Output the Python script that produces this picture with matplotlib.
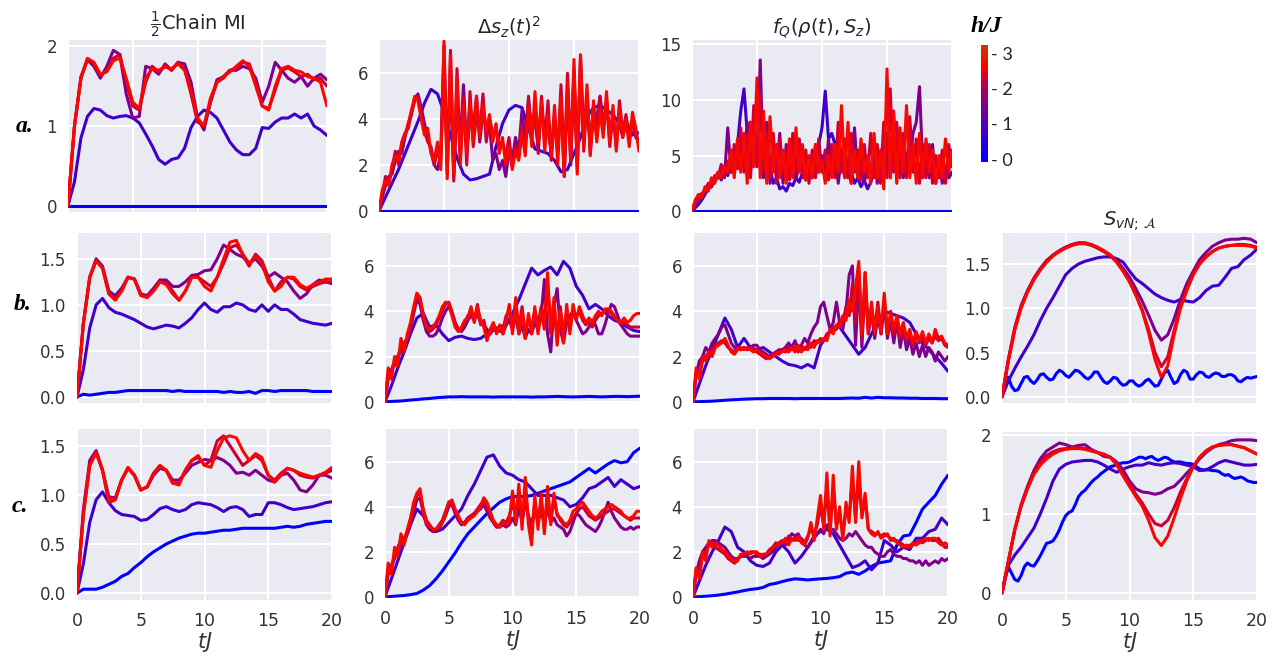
import numpy as np
import matplotlib
matplotlib.use("Agg")
import matplotlib.pyplot as plt
from matplotlib.colors import LinearSegmentedColormap, Normalize

plt.rcParams['font.family'] = ['DejaVu Sans']

# ---------------- data ----------------
h_values = [0.0, 0.75, 1.5, 2.25, 2.7]          # h/J of the five curves
cbar_ticks = [0, 1, 2, 3]
cbar_ticklabels = ['- 0', '- 1', '- 2', '- 3']
time_ticks = [0, 5, 10, 15, 20]
col_titles = [r'$\frac{1}{2}$Chain MI', r'$\Delta s_z(t)^2$', r'$f_Q(\rho(t), S_z)$', r'$S_{vN;\,\mathcal{A}}$']
row_labels = ['a.', 'b.', 'c.']

# ---- row a, half-chain MI ----
a_mi_h0 = [0.0, 0.0]
a_mi_h1 = [0, 0.3, 0.85, 1.12, 1.22, 1.2, 1.13, 1.1, 1.12, 1.13,
           1.1, 1.04, 0.9, 0.75, 0.58, 0.52, 0.58, 0.6, 0.72, 0.98,
           1.12, 1.2, 1.17, 1.1, 0.95, 0.8, 0.7, 0.64, 0.64, 0.72,
           0.98, 0.97, 1.05, 1.1, 1.1, 1.15, 1.1, 1.15, 1.0, 0.95,
           0.88]
a_mi_h2 = [0, 1.0, 1.62, 1.83, 1.75, 1.6, 1.75, 1.95, 1.9, 1.4,
           1.1, 1.12, 1.75, 1.72, 1.65, 1.78, 1.7, 1.8, 1.78, 1.55,
           1.1, 0.95, 1.3, 1.58, 1.62, 1.7, 1.7, 1.75, 1.72, 1.6,
           1.3, 1.5, 1.8, 1.7, 1.6, 1.55, 1.62, 1.5, 1.6, 1.65,
           1.58]
a_mi_h3 = [0, 1.0, 1.6, 1.84, 1.78, 1.63, 1.7, 1.85, 1.9, 1.55,
           1.25, 1.2, 1.55, 1.75, 1.68, 1.76, 1.7, 1.8, 1.72, 1.4,
           1.05, 1.0, 1.3, 1.55, 1.6, 1.7, 1.72, 1.8, 1.78, 1.55,
           1.25, 1.22, 1.45, 1.7, 1.73, 1.68, 1.62, 1.65, 1.58, 1.6,
           1.5]
a_mi_h4 = [0, 1.0, 1.6, 1.85, 1.8, 1.65, 1.68, 1.82, 1.85, 1.6,
           1.3, 1.22, 1.6, 1.72, 1.7, 1.74, 1.72, 1.78, 1.7, 1.45,
           1.1, 1.0, 1.35, 1.55, 1.62, 1.68, 1.75, 1.82, 1.75, 1.5,
           1.25, 1.2, 1.5, 1.72, 1.75, 1.7, 1.68, 1.62, 1.6, 1.55,
           1.25]

# ---- row a, variance ----
a_var_h0 = [0.0, 0.0]
a_var_h1 = [0, 0.6, 1.2, 1.8, 2.5, 3.2, 3.9, 4.7, 5.3, 5.1,
            4.3, 3.3, 2.3, 1.6, 1.35, 1.4, 1.5, 1.6, 2.8, 3.8,
            4.4, 4.6, 4.5, 3.6, 2.7, 2.6, 2.5, 2.2, 1.7, 1.8,
            2.5, 3.2, 4.1, 4.5, 4.6, 4.4, 4.2, 3.8, 3.5, 3.4,
            3.4]
a_var_h2 = [0, 0.6, 1.1, 1.5, 1.6, 2.2, 2.6, 2.5, 3.2, 3.8, 4.2, 4.9,
            5.1, 4.5, 3.8, 3.2, 2.6, 2.0, 1.8, 2.5, 7.2, 2.0, 6.0, 1.5,
            4.5, 3.0, 5.5, 2.6, 4.0, 3.6, 5.0, 3.0, 4.3, 3.6, 3.8, 2.2,
            2.5, 1.8, 2.2, 1.5, 2.6, 2.2, 3.2, 2.6, 4.4, 3.0, 4.8, 3.4,
            4.0, 2.8, 4.6, 3.2, 3.6, 2.5, 4.2, 2.5, 4.8, 1.5, 5.2, 2.0,
            6.0, 1.8, 6.8, 3.0, 5.2, 2.5, 4.2, 4.0, 5.0, 3.8, 4.5, 3.5,
            4.0, 3.4, 3.8, 3.2, 4.0, 3.6, 3.3, 3.5, 2.8]
a_var_h3 = [0, 0.7, 1.5, 1.2, 1.8, 2.6, 2.0, 3.0, 3.4, 3.6, 4.3, 4.8,
            5.0, 4.2, 3.5, 3.0, 2.8, 2.0, 2.6, 2.2, 6.5, 1.6, 7.0, 1.3,
            6.2, 2.2, 5.0, 2.0, 5.2, 2.8, 4.2, 3.5, 5.1, 3.0, 4.0, 3.4,
            3.5, 2.8, 3.0, 2.4, 3.2, 2.0, 2.8, 2.4, 3.8, 2.8, 5.0, 3.2,
            4.5, 2.5, 5.0, 3.0, 4.8, 2.2, 4.0, 2.6, 5.5, 1.8, 6.0, 2.5,
            6.2, 2.0, 6.4, 2.6, 5.0, 2.8, 4.5, 3.2, 5.0, 3.4, 4.8, 2.8,
            4.2, 2.8, 4.8, 3.4, 4.2, 3.0, 4.0, 3.2, 3.0]
a_var_h4 = [0, 0.9, 1.3, 1.1, 2.0, 2.4, 2.2, 2.9, 3.3, 3.8, 4.4, 5.0,
            4.8, 4.0, 3.3, 3.6, 2.5, 2.2, 3.0, 1.8, 7.4, 1.4, 6.8, 1.6,
            5.8, 2.0, 4.6, 2.5, 4.8, 3.0, 5.0, 3.2, 4.6, 3.5, 4.2, 3.0,
            3.8, 2.5, 3.2, 2.0, 2.8, 1.8, 2.6, 2.2, 3.4, 2.4, 4.5, 2.8,
            5.2, 3.0, 4.8, 2.6, 4.2, 2.4, 4.6, 2.0, 5.0, 1.5, 5.6, 2.2,
            6.6, 1.6, 6.8, 2.8, 5.5, 2.4, 4.8, 3.0, 4.4, 3.2, 5.2, 3.0,
            4.6, 2.6, 4.5, 3.2, 4.0, 2.8, 4.3, 3.6, 2.6]

# ---- row a, QFI ----
a_fq_h0 = [0.0, 0.0]
a_fq_h1 = [0, 0.3, 0.6, 1.0, 1.5, 2.0, 2.2, 2.8, 3.5, 2.8, 4.0, 3.2,
           4.5, 5.5, 6.0, 9.0, 11.0, 7.0, 8.0, 6.5, 7.0, 4.5, 5.5, 3.5,
           3.8, 2.5, 3.0, 2.0, 2.2, 1.8, 2.5, 2.3, 3.0, 2.6, 3.5, 2.8,
           4.0, 3.5, 5.0, 6.0, 7.5, 10.8, 6.5, 7.0, 6.0, 6.5, 5.0, 4.5,
           3.0, 3.5, 2.5, 3.0, 2.2, 2.8, 2.0, 2.6, 3.5, 3.0, 4.0, 3.5,
           4.5, 3.8, 5.0, 4.2, 5.5, 4.0, 5.2, 3.8, 4.5, 3.5, 4.2, 3.0,
           3.8, 3.2, 4.5, 3.6, 4.2, 3.0, 3.8, 3.0, 3.5]
a_fq_h2 = [0, 0.5, 1.0, 1.4, 1.6, 2.0, 2.5, 2.8, 3.0, 3.5, 3.0, 7.5,
           3.5, 5.0, 4.0, 6.0, 4.5, 8.0, 3.5, 6.5, 4.0, 13.6, 3.0, 8.0,
           2.5, 6.0, 3.5, 7.0, 2.5, 6.0, 3.0, 5.0, 2.8, 4.5, 3.5, 5.0,
           4.0, 3.0, 6.0, 3.5, 5.0, 3.0, 6.5, 3.5, 5.5, 2.5, 5.0, 3.0,
           4.0, 2.5, 7.5, 3.0, 5.0, 2.5, 4.5, 3.5, 6.0, 2.5, 5.0, 3.0,
           7.0, 3.0, 9.0, 3.5, 6.5, 3.0, 5.0, 4.0, 7.0, 8.0, 11.2, 4.0,
           5.0, 3.0, 6.0, 2.5, 4.5, 2.5, 4.0, 3.0, 3.5]
a_fq_h3 = [0, 0.8, 1.3, 1.6, 1.8, 2.5, 2.2, 3.2, 3.0, 4.2, 3.2, 4.5,
           3.5, 6.0, 3.8, 7.5, 3.5, 6.8, 3.0, 9.5, 4.0, 10.5, 3.5, 7.0,
           3.0, 7.0, 2.5, 6.5, 3.5, 5.5, 2.8, 7.0, 3.5, 6.5, 3.0, 5.5,
           2.5, 5.5, 3.0, 6.5, 3.5, 5.5, 2.8, 6.0, 3.0, 8.0, 3.5, 6.5,
           3.0, 7.0, 3.5, 5.5, 2.8, 6.0, 3.0, 7.0, 3.0, 6.0, 2.5, 8.0,
           3.0, 11.0, 3.5, 8.0, 3.0, 7.0, 3.0, 8.5, 3.5, 6.5, 2.5, 6.0,
           3.0, 6.0, 2.5, 5.0, 3.0, 5.5, 2.5, 6.0, 4.0]
a_fq_h4 = [0, 1.0, 1.5, 1.2, 2.2, 1.8, 3.0, 2.5, 3.5, 3.0, 4.0, 3.5,
           5.5, 3.0, 6.5, 3.5, 7.0, 2.5, 8.0, 4.0, 12.0, 3.0, 9.0, 2.5,
           8.5, 3.5, 6.0, 3.0, 5.5, 2.5, 6.5, 3.0, 7.5, 3.5, 6.0, 2.8,
           5.0, 3.0, 6.0, 3.5, 4.5, 2.5, 5.0, 3.0, 6.0, 3.5, 9.5, 3.0,
           8.0, 2.5, 5.5, 3.0, 6.5, 3.5, 5.0, 2.5, 7.0, 3.0, 5.5, 2.0,
           12.8, 3.0, 9.0, 2.5, 7.5, 3.5, 9.5, 3.0, 6.0, 2.5, 7.0, 3.0,
           6.5, 3.5, 5.5, 2.5, 5.0, 3.0, 6.5, 3.5, 5.5]

# ---- row b, half-chain MI ----
b_mi_h0 = [0, 0.03, 0.02, 0.03, 0.04, 0.05, 0.05, 0.06, 0.07, 0.07,
           0.07, 0.07, 0.07, 0.07, 0.07, 0.06, 0.07, 0.06, 0.06, 0.06,
           0.06, 0.06, 0.06, 0.05, 0.06, 0.05, 0.05, 0.06, 0.04, 0.07,
           0.07, 0.06, 0.07, 0.07, 0.07, 0.07, 0.07, 0.06, 0.06, 0.06,
           0.06]
b_mi_h1 = [0, 0.3, 0.75, 1.0, 1.07, 0.97, 0.92, 0.9, 0.87, 0.84,
           0.8, 0.76, 0.74, 0.76, 0.78, 0.77, 0.75, 0.8, 0.86, 0.95,
           1.02, 0.95, 0.92, 0.98, 0.98, 1.02, 1.0, 0.95, 0.93, 1.0,
           0.93, 1.0, 0.95, 0.95, 0.9, 0.84, 0.82, 0.8, 0.79, 0.78,
           0.8]
b_mi_h2 = [0, 0.8, 1.3, 1.5, 1.42, 1.15, 1.1, 1.18, 1.3, 1.28,
           1.12, 1.1, 1.18, 1.27, 1.27, 1.2, 1.2, 1.25, 1.32, 1.33,
           1.37, 1.38, 1.5, 1.65, 1.6, 1.55, 1.52, 1.45, 1.5, 1.42,
           1.3, 1.35, 1.3, 1.25, 1.15, 1.07, 1.12, 1.22, 1.27, 1.25,
           1.23]
b_mi_h3 = [0, 0.8, 1.3, 1.48, 1.4, 1.12, 1.06, 1.15, 1.3, 1.28,
           1.12, 1.08, 1.15, 1.25, 1.24, 1.15, 1.05, 1.15, 1.3, 1.3,
           1.25, 1.2, 1.3, 1.45, 1.62, 1.65, 1.55, 1.42, 1.55, 1.48,
           1.3, 1.15, 1.25, 1.3, 1.28, 1.2, 1.16, 1.2, 1.23, 1.25,
           1.25]
b_mi_h4 = [0, 0.8, 1.3, 1.48, 1.4, 1.12, 1.05, 1.15, 1.3, 1.28,
           1.1, 1.08, 1.15, 1.25, 1.22, 1.12, 1.05, 1.15, 1.3, 1.3,
           1.2, 1.15, 1.3, 1.5, 1.68, 1.7, 1.55, 1.45, 1.53, 1.45,
           1.25, 1.15, 1.2, 1.3, 1.3, 1.22, 1.18, 1.22, 1.25, 1.28,
           1.28]

# ---- row b, variance ----
b_var_h0 = [0, 0.02, 0.03, 0.05, 0.08, 0.1, 0.13, 0.15, 0.18, 0.2,
            0.22, 0.22, 0.23, 0.22, 0.22, 0.22, 0.22, 0.21, 0.22, 0.22,
            0.22, 0.22, 0.22, 0.21, 0.22, 0.22, 0.23, 0.24, 0.23, 0.22,
            0.22, 0.23, 0.24, 0.23, 0.22, 0.23, 0.24, 0.24, 0.23, 0.24,
            0.25]
b_var_h1 = [0, 0.7, 1.5, 2.2, 3.0, 3.7, 3.9, 3.3, 3.4, 3.0,
            2.7, 2.85, 2.9, 2.8, 2.75, 2.8, 3.0, 3.2, 3.3, 3.4,
            3.9, 4.5, 5.2, 5.9, 5.6, 5.8, 5.95, 5.6, 6.2, 5.9,
            5.1, 4.7, 4.1, 4.3, 4.1, 3.8, 3.6, 3.5, 3.3, 3.15,
            3.1]
b_var_h2 = [0, 1.0, 1.4, 1.6, 2.0, 2.2, 2.5, 2.8, 3.2, 3.9, 4.5, 4.3,
            3.6, 3.1, 2.9, 2.9, 3.0, 3.3, 3.7, 4.0, 4.2, 3.9, 3.5, 3.2,
            3.1, 3.3, 3.6, 3.8, 3.6, 3.9, 3.5, 3.4, 3.2, 3.0, 3.2, 3.1,
            3.3, 3.0, 3.4, 3.6, 3.2, 3.8, 3.0, 3.4, 2.8, 3.2, 3.0, 3.5,
            3.2, 3.8, 5.4, 3.0, 2.2, 4.2, 5.0, 3.2, 2.6, 3.5, 3.8, 4.0,
            3.6, 3.3, 3.0, 3.1, 3.3, 3.6, 3.4, 3.0, 3.0, 3.4, 3.9, 4.3,
            4.2, 3.8, 3.4, 3.2, 3.0, 2.9, 2.9, 2.9, 2.9]
b_var_h3 = [0, 1.2, 1.4, 1.8, 2.0, 2.4, 2.6, 2.8, 3.3, 4.0, 4.7, 4.5,
            3.9, 3.4, 3.1, 3.2, 3.4, 3.7, 4.0, 4.3, 4.4, 4.0, 3.5, 3.2,
            3.2, 3.5, 3.8, 4.0, 3.6, 4.3, 3.4, 3.6, 2.9, 3.0, 3.4, 3.2,
            3.1, 3.2, 3.8, 4.0, 3.2, 4.4, 3.2, 4.2, 3.0, 3.6, 3.3, 4.0,
            3.4, 4.2, 3.6, 5.2, 3.2, 4.4, 2.8, 4.2, 3.0, 4.0, 3.2, 4.0,
            3.8, 4.0, 3.6, 3.4, 3.5, 3.3, 3.6, 3.8, 3.9, 4.0, 4.0, 3.9,
            3.7, 3.6, 3.4, 3.5, 3.4, 3.3, 3.3, 3.3, 3.3]
b_var_h4 = [0, 1.5, 1.0, 2.0, 1.6, 2.8, 2.2, 3.0, 3.5, 4.2, 4.8, 4.6,
            3.8, 3.3, 3.2, 3.3, 3.5, 3.8, 4.2, 4.4, 4.3, 3.8, 3.3, 3.1,
            3.3, 3.6, 3.7, 4.2, 3.5, 4.2, 3.6, 3.3, 2.7, 3.2, 3.5, 3.0,
            3.4, 3.0, 3.6, 4.3, 3.0, 4.6, 3.0, 4.0, 2.8, 3.9, 3.0, 4.2,
            3.0, 4.0, 3.2, 5.7, 3.0, 4.6, 2.5, 4.0, 2.6, 4.3, 3.0, 4.3,
            3.6, 4.2, 3.8, 3.5, 3.7, 3.5, 3.8, 4.0, 3.8, 4.1, 4.1, 4.0,
            3.8, 3.6, 3.5, 3.7, 3.5, 3.6, 3.8, 3.9, 3.9]

# ---- row b, QFI ----
b_fq_h0 = [0, 0.01, 0.02, 0.03, 0.05, 0.07, 0.09, 0.1, 0.12, 0.13,
           0.14, 0.14, 0.15, 0.15, 0.15, 0.15, 0.14, 0.15, 0.15, 0.15,
           0.15, 0.15, 0.15, 0.15, 0.16, 0.17, 0.16, 0.2, 0.17, 0.2,
           0.18, 0.18, 0.17, 0.17, 0.16, 0.16, 0.15, 0.15, 0.15, 0.14,
           0.14]
b_fq_h1 = [0, 0.8, 1.6, 2.3, 3.0, 3.7, 3.2, 2.4, 2.8, 2.4,
           2.3, 2.4, 2.2, 2.0, 1.8, 1.65, 1.6, 1.5, 1.65, 1.5,
           2.5, 2.9, 3.3, 3.3, 2.9, 2.5, 2.1, 2.4, 3.0, 3.5,
           4.0, 3.9, 3.8, 3.7, 3.5, 3.0, 2.6, 2.3, 2.0, 1.7,
           1.35]
b_fq_h2 = [0, 1.2, 1.8, 2.0, 2.4, 2.2, 2.6, 2.8, 3.0, 3.3, 3.4, 3.0,
           2.6, 2.4, 2.4, 2.3, 2.4, 2.3, 2.4, 2.5, 2.5, 2.3, 2.2, 2.1,
           2.0, 2.1, 2.2, 2.3, 2.3, 2.4, 2.6, 2.4, 2.7, 2.3, 2.5, 2.8,
           2.6, 3.0, 3.3, 3.5, 4.2, 4.4, 3.8, 3.2, 3.5, 4.4, 3.5, 3.2,
           4.0, 5.6, 6.0, 2.5, 5.5, 2.4, 5.7, 3.0, 4.0, 2.8, 3.8, 3.0,
           4.3, 2.8, 3.6, 2.6, 3.6, 2.4, 3.2, 2.3, 2.8, 2.1, 2.6, 2.0,
           2.5, 2.0, 2.4, 2.2, 1.8, 2.2, 2.0, 1.8, 2.0]
b_fq_h3 = [0, 1.3, 1.2, 1.8, 2.0, 2.2, 2.3, 2.5, 2.6, 2.7, 2.6, 2.4,
           2.3, 2.2, 2.4, 2.3, 2.4, 2.3, 2.4, 2.3, 2.2, 2.1, 2.0, 1.9,
           2.0, 2.1, 2.2, 2.1, 2.3, 2.2, 2.4, 2.3, 2.4, 2.2, 2.5, 2.3,
           2.5, 2.4, 2.7, 2.6, 2.8, 2.7, 3.0, 3.1, 3.3, 3.2, 3.6, 3.5,
           4.2, 3.8, 5.2, 3.5, 5.8, 2.8, 5.0, 3.2, 4.2, 3.2, 4.4, 3.0,
           4.5, 3.2, 3.8, 3.0, 3.5, 2.8, 3.3, 2.7, 3.0, 2.5, 2.9, 2.6,
           2.9, 2.5, 2.8, 2.6, 2.9, 2.7, 2.8, 2.5, 2.4]
b_fq_h4 = [0, 1.5, 1.0, 2.0, 1.8, 2.2, 2.0, 2.4, 2.5, 2.6, 2.8, 2.5,
           2.2, 2.1, 2.3, 2.4, 2.3, 2.4, 2.3, 2.2, 2.3, 2.2, 2.1, 2.0,
           1.9, 2.0, 2.1, 2.2, 2.2, 2.3, 2.2, 2.4, 2.2, 2.5, 2.2, 2.4,
           2.3, 2.6, 2.4, 2.7, 2.6, 2.8, 2.7, 3.2, 3.0, 3.4, 3.3, 3.8,
           3.6, 4.5, 4.0, 5.0, 6.2, 3.0, 5.7, 3.0, 4.4, 3.0, 4.2, 3.1,
           4.8, 3.0, 4.0, 3.2, 3.8, 3.0, 3.5, 2.8, 3.2, 2.6, 3.1, 2.7,
           3.1, 2.6, 3.0, 2.6, 3.2, 2.8, 2.9, 2.6, 2.5]

# ---- row b, entanglement entropy ----
b_svn_h0 = [0, 0.12, 0.22, 0.12, 0.07, 0.08, 0.15, 0.22, 0.23, 0.18, 0.15, 0.19,
            0.25, 0.26, 0.22, 0.19, 0.2, 0.26, 0.3, 0.28, 0.24, 0.22, 0.26, 0.3,
            0.29, 0.26, 0.22, 0.2, 0.23, 0.28, 0.28, 0.22, 0.17, 0.15, 0.18, 0.22,
            0.21, 0.16, 0.13, 0.14, 0.18, 0.18, 0.14, 0.12, 0.14, 0.18, 0.2, 0.16,
            0.12, 0.13, 0.2, 0.27, 0.3, 0.22, 0.15, 0.17, 0.25, 0.3, 0.28, 0.2,
            0.2, 0.25, 0.28, 0.27, 0.23, 0.22, 0.25, 0.27, 0.26, 0.23, 0.23, 0.25,
            0.25, 0.23, 0.18, 0.17, 0.2, 0.22, 0.21, 0.22, 0.23]
b_svn_h1 = [0, 0.18, 0.32, 0.45, 0.57, 0.7, 0.86, 1.0, 1.12, 1.25,
            1.38, 1.45, 1.5, 1.53, 1.55, 1.57, 1.58, 1.58, 1.56, 1.52,
            1.42, 1.33, 1.28, 1.22, 1.16, 1.12, 1.09, 1.07, 1.1, 1.08,
            1.07, 1.12, 1.2, 1.25, 1.26, 1.35, 1.45, 1.47, 1.55, 1.6,
            1.67]
b_svn_h2 = [0, 0.42, 0.78, 1.03, 1.2, 1.34, 1.45, 1.54, 1.6, 1.65,
            1.69, 1.72, 1.74, 1.74, 1.72, 1.68, 1.64, 1.6, 1.54, 1.45,
            1.35, 1.22, 1.08, 0.92, 0.75, 0.64, 0.7, 0.88, 1.1, 1.28,
            1.42, 1.55, 1.63, 1.7, 1.74, 1.77, 1.78, 1.78, 1.79, 1.78,
            1.74]
b_svn_h3 = [0, 0.42, 0.77, 1.02, 1.19, 1.33, 1.44, 1.53, 1.6, 1.65,
            1.69, 1.72, 1.73, 1.73, 1.71, 1.68, 1.64, 1.59, 1.52, 1.42,
            1.3, 1.15, 0.98, 0.76, 0.5, 0.34, 0.45, 0.75, 1.02, 1.22,
            1.38, 1.5, 1.58, 1.64, 1.68, 1.7, 1.71, 1.72, 1.72, 1.71,
            1.69]
b_svn_h4 = [0, 0.4, 0.75, 1.0, 1.18, 1.32, 1.43, 1.52, 1.59, 1.64,
            1.68, 1.71, 1.73, 1.73, 1.72, 1.69, 1.65, 1.6, 1.52, 1.42,
            1.3, 1.15, 0.97, 0.72, 0.42, 0.22, 0.35, 0.7, 1.0, 1.2,
            1.38, 1.5, 1.58, 1.64, 1.68, 1.7, 1.71, 1.71, 1.71, 1.7,
            1.68]

# ---- row c, half-chain MI ----
c_mi_h0 = [0, 0.04, 0.04, 0.04, 0.06, 0.09, 0.12, 0.17, 0.2, 0.26,
           0.31, 0.37, 0.42, 0.46, 0.5, 0.53, 0.56, 0.58, 0.6, 0.61,
           0.61, 0.62, 0.63, 0.64, 0.64, 0.65, 0.66, 0.66, 0.66, 0.66,
           0.66, 0.66, 0.67, 0.68, 0.67, 0.68, 0.7, 0.71, 0.72, 0.73,
           0.73]
c_mi_h1 = [0, 0.3, 0.72, 0.95, 1.03, 0.92, 0.84, 0.8, 0.79, 0.78,
           0.74, 0.75, 0.8, 0.86, 0.88, 0.85, 0.83, 0.85, 0.9, 0.92,
           0.91, 0.9, 0.87, 0.83, 0.87, 0.88, 0.85, 0.78, 0.8, 0.8,
           0.92, 0.92, 0.9, 0.87, 0.85, 0.86, 0.87, 0.88, 0.9, 0.92,
           0.93]
c_mi_h2 = [0, 0.85, 1.35, 1.45, 1.25, 0.98, 0.97, 1.15, 1.27, 1.2,
           1.05, 1.08, 1.2, 1.27, 1.25, 1.15, 1.15, 1.22, 1.3, 1.33,
           1.36, 1.35, 1.38, 1.35, 1.3, 1.22, 1.23, 1.2, 1.25, 1.2,
           1.15, 1.13, 1.2, 1.22, 1.15, 1.05, 1.03, 1.1, 1.2, 1.2,
           1.17]
c_mi_h3 = [0, 0.8, 1.3, 1.43, 1.25, 0.92, 0.95, 1.15, 1.27, 1.2,
           1.05, 1.08, 1.22, 1.29, 1.25, 1.12, 1.12, 1.25, 1.35, 1.38,
           1.3, 1.35, 1.55, 1.6, 1.5, 1.4, 1.3, 1.35, 1.4, 1.35,
           1.2, 1.15, 1.22, 1.27, 1.25, 1.2, 1.18, 1.17, 1.2, 1.22,
           1.25]
c_mi_h4 = [0, 0.8, 1.3, 1.43, 1.25, 0.95, 0.95, 1.15, 1.28, 1.2,
           1.05, 1.08, 1.22, 1.3, 1.25, 1.12, 1.1, 1.25, 1.35, 1.4,
           1.3, 1.28, 1.45, 1.58, 1.6, 1.58, 1.45, 1.35, 1.42, 1.38,
           1.2, 1.13, 1.2, 1.27, 1.25, 1.22, 1.2, 1.18, 1.2, 1.23,
           1.28]

# ---- row c, variance ----
c_var_h0 = [0, 0.02, 0.04, 0.06, 0.1, 0.15, 0.3, 0.5, 0.8, 1.15,
            1.55, 1.95, 2.4, 2.8, 3.1, 3.4, 3.7, 3.95, 4.2, 4.35,
            4.45, 4.45, 4.45, 4.5, 4.6, 4.7, 4.8, 4.9, 5.0, 5.1,
            5.3, 5.5, 5.7, 5.5, 5.7, 5.9, 6.05, 5.95, 6.0, 6.4,
            6.6]
c_var_h1 = [0, 0.8, 1.6, 2.4, 3.2, 3.9, 3.6, 3.1, 2.9, 3.0,
            3.3, 3.6, 3.9, 4.5, 5.0, 5.6, 6.2, 6.3, 5.8, 5.5,
            5.4, 5.2, 5.1, 4.8, 4.5, 4.5, 4.5, 4.4, 4.3, 4.0,
            4.1, 4.4, 4.8, 4.9, 5.1, 5.3, 4.9, 5.2, 5.0, 4.8,
            4.9]
c_var_h2 = [0, 1.0, 1.3, 1.7, 2.0, 2.3, 2.6, 2.8, 3.2, 3.8, 4.3, 4.4,
            3.7, 3.2, 3.0, 2.9, 2.9, 3.0, 3.3, 3.6, 4.0, 4.1, 3.7, 3.4,
            3.2, 3.3, 3.5, 3.6, 3.7, 3.8, 3.9, 4.1, 3.8, 3.5, 3.3, 3.1,
            3.1, 3.2, 3.1, 3.2, 3.5, 3.2, 4.0, 3.3, 4.2, 3.6, 3.2, 3.8,
            3.4, 3.8, 3.2, 4.0, 3.3, 3.5, 3.2, 3.1, 3.0, 2.7, 2.9, 3.3,
            3.7, 3.6, 3.4, 3.2, 3.1, 3.0, 2.9, 3.1, 3.4, 3.8, 4.2, 3.8,
            3.5, 3.3, 3.1, 3.0, 3.0, 3.1, 3.0, 3.1, 3.1]
c_var_h3 = [0, 1.2, 1.4, 1.8, 2.2, 2.5, 2.6, 2.9, 3.3, 4.0, 4.5, 4.6,
            3.9, 3.4, 3.2, 3.0, 3.0, 3.2, 3.4, 3.8, 4.2, 4.2, 3.8, 3.5,
            3.3, 3.3, 3.5, 3.6, 3.7, 3.9, 4.1, 4.3, 4.0, 3.6, 3.3, 3.1,
            3.2, 3.4, 3.3, 3.6, 4.2, 3.5, 4.6, 3.4, 4.8, 3.5, 3.0, 4.2,
            3.3, 4.3, 3.0, 4.6, 3.4, 4.3, 3.7, 3.4, 3.2, 3.1, 3.3, 3.5,
            3.7, 3.9, 4.0, 3.8, 3.6, 3.5, 3.4, 3.5, 3.6, 3.7, 3.8, 3.9,
            3.9, 3.8, 3.7, 3.6, 3.5, 3.4, 3.5, 3.5, 3.5]
c_var_h4 = [0, 1.5, 1.0, 2.2, 1.8, 2.8, 2.3, 3.0, 3.5, 4.2, 4.6, 4.8,
            3.8, 3.3, 3.1, 3.0, 3.0, 3.1, 3.3, 3.7, 4.2, 4.3, 3.9, 3.6,
            3.3, 3.2, 3.4, 3.5, 3.6, 3.8, 4.0, 4.4, 4.2, 3.8, 3.4, 3.2,
            3.1, 3.3, 3.2, 3.3, 4.7, 3.3, 5.0, 3.0, 5.3, 3.2, 2.3, 4.5,
            3.0, 4.6, 2.8, 4.9, 3.2, 4.6, 3.6, 3.5, 3.3, 3.2, 3.4, 3.8,
            3.9, 4.1, 4.2, 4.0, 3.8, 3.6, 3.5, 3.6, 3.8, 3.9, 4.0, 4.1,
            4.0, 3.9, 3.8, 3.6, 3.5, 3.5, 3.6, 3.8, 3.8]

# ---- row c, QFI ----
c_fq_h0 = [0, 0.01, 0.03, 0.05, 0.08, 0.12, 0.17, 0.22, 0.28, 0.33,
           0.36, 0.42, 0.55, 0.6, 0.68, 0.75, 0.8, 0.78, 0.75, 0.78,
           0.8, 0.82, 0.85, 0.9, 1.05, 1.1, 1.0, 1.15, 1.35, 1.5,
           1.55, 1.6, 2.3, 2.7, 2.75, 3.3, 3.9, 4.2, 4.5, 5.0,
           5.4]
c_fq_h1 = [0, 0.7, 1.4, 2.0, 2.5, 3.1, 2.9, 2.2, 2.0, 1.6,
           1.4, 1.35, 1.5, 2.0, 2.3, 2.0, 1.5, 1.8, 2.2, 2.7,
           2.9, 3.0, 2.8, 2.3, 1.8, 1.3, 1.4, 1.6, 1.2, 1.5,
           2.5, 2.3, 2.0, 2.2, 2.1, 2.6, 2.6, 2.9, 3.0, 3.5,
           3.2]
c_fq_h2 = [0, 1.0, 1.6, 2.0, 2.2, 2.4, 2.5, 2.5, 2.4, 2.3, 2.2, 2.0,
           1.8, 1.7, 1.7, 1.8, 1.8, 1.8, 1.7, 1.8, 1.8, 1.8, 1.7, 1.8,
           1.9, 2.0, 2.2, 2.4, 2.5, 2.3, 2.6, 2.8, 2.7, 2.8, 2.5, 2.3,
           2.2, 2.4, 2.6, 2.8, 3.0, 2.8, 3.2, 3.0, 3.0, 2.8, 2.6, 2.5,
           2.6, 2.8, 2.7, 2.9, 2.7, 2.5, 2.3, 2.2, 2.2, 2.0, 1.9, 1.8,
           1.8, 2.0, 2.1, 1.9, 1.8, 1.8, 1.7, 1.7, 1.6, 1.6, 1.5, 1.6,
           1.4, 1.6, 1.4, 1.5, 1.6, 1.5, 1.7, 1.6, 1.7]
c_fq_h3 = [0, 1.2, 1.0, 1.8, 2.0, 2.3, 2.4, 2.2, 2.1, 2.0, 1.9, 1.7,
           1.6, 1.5, 1.7, 1.8, 1.9, 1.9, 2.0, 2.0, 1.9, 1.9, 1.8, 1.9,
           2.1, 2.2, 2.4, 2.3, 2.5, 2.4, 2.7, 2.5, 2.6, 2.5, 2.6, 2.4,
           2.7, 3.0, 2.8, 3.2, 4.0, 3.2, 4.8, 3.0, 4.8, 3.2, 3.7, 2.8,
           3.8, 3.5, 5.2, 3.5, 5.2, 3.6, 4.4, 3.0, 2.9, 2.8, 2.8, 2.7,
           2.8, 2.7, 2.6, 2.5, 2.5, 2.4, 2.3, 2.2, 2.3, 2.3, 2.4, 2.5,
           2.4, 2.5, 2.6, 2.5, 2.5, 2.6, 2.4, 2.2, 2.2]
c_fq_h4 = [0, 1.3, 0.8, 2.0, 1.6, 2.5, 2.2, 2.4, 2.3, 2.1, 2.0, 1.8,
           1.7, 1.5, 1.6, 1.9, 1.9, 2.0, 1.9, 2.0, 2.0, 1.8, 1.9, 1.9,
           2.0, 2.2, 2.3, 2.4, 2.4, 2.6, 2.3, 2.6, 2.5, 2.7, 2.4, 2.3,
           2.6, 3.3, 2.5, 3.5, 4.5, 3.0, 5.5, 2.7, 5.4, 3.0, 4.0, 2.5,
           4.2, 3.3, 5.8, 3.3, 6.0, 3.5, 4.6, 3.0, 2.8, 2.7, 2.9, 2.6,
           2.7, 2.8, 2.5, 2.6, 2.4, 2.3, 2.2, 2.3, 2.2, 2.4, 2.3, 2.4,
           2.5, 2.6, 2.5, 2.6, 2.6, 2.4, 2.3, 2.4, 2.3]

# ---- row c, entanglement entropy ----
c_svn_h0 = [0, 0.2, 0.33, 0.25, 0.17, 0.15, 0.22, 0.33, 0.38, 0.35, 0.34, 0.4,
            0.47, 0.55, 0.63, 0.64, 0.66, 0.72, 0.8, 0.9, 0.98, 1.02, 1.04, 1.12,
            1.22, 1.27, 1.3, 1.35, 1.4, 1.44, 1.47, 1.51, 1.54, 1.57, 1.6, 1.61,
            1.63, 1.64, 1.65, 1.65, 1.66, 1.68, 1.7, 1.72, 1.72, 1.7, 1.72, 1.73,
            1.7, 1.68, 1.7, 1.72, 1.71, 1.68, 1.66, 1.66, 1.66, 1.65, 1.64, 1.64,
            1.63, 1.6, 1.57, 1.56, 1.56, 1.56, 1.55, 1.55, 1.54, 1.51, 1.49, 1.5,
            1.47, 1.45, 1.46, 1.47, 1.45, 1.42, 1.41, 1.4, 1.4]
c_svn_h1 = [0, 0.35, 0.48, 0.58, 0.7, 0.82, 1.0, 1.2, 1.42, 1.57,
            1.63, 1.66, 1.67, 1.68, 1.68, 1.66, 1.62, 1.57, 1.53, 1.57,
            1.6, 1.62, 1.62, 1.65, 1.63, 1.62, 1.64, 1.65, 1.64, 1.62,
            1.6, 1.55, 1.56, 1.6, 1.65, 1.68, 1.66, 1.64, 1.62, 1.62,
            1.63]
c_svn_h2 = [0, 0.4, 0.8, 1.12, 1.35, 1.55, 1.7, 1.8, 1.85, 1.9,
            1.88, 1.85, 1.87, 1.88, 1.82, 1.78, 1.73, 1.72, 1.66, 1.56,
            1.42, 1.32, 1.28, 1.27, 1.25, 1.27, 1.32, 1.35, 1.43, 1.52,
            1.6, 1.7, 1.78, 1.84, 1.88, 1.9, 1.93, 1.94, 1.94, 1.94,
            1.93]
c_svn_h3 = [0, 0.4, 0.8, 1.1, 1.33, 1.52, 1.65, 1.74, 1.79, 1.82,
            1.83, 1.84, 1.84, 1.83, 1.8, 1.78, 1.76, 1.72, 1.63, 1.5,
            1.38, 1.25, 1.14, 1.0, 0.88, 0.85, 0.92, 1.08, 1.28, 1.45,
            1.6, 1.72, 1.8, 1.85, 1.87, 1.88, 1.88, 1.86, 1.84, 1.8,
            1.76]
c_svn_h4 = [0, 0.4, 0.8, 1.1, 1.32, 1.5, 1.62, 1.7, 1.76, 1.8,
            1.82, 1.83, 1.83, 1.82, 1.8, 1.78, 1.75, 1.72, 1.62, 1.48,
            1.35, 1.22, 1.1, 0.92, 0.7, 0.6, 0.72, 0.95, 1.2, 1.42,
            1.6, 1.72, 1.8, 1.85, 1.87, 1.88, 1.88, 1.86, 1.84, 1.8,
            1.76]

# ---------------- figure ----------------
W, H = 1277, 656
fig = plt.figure(figsize=(W / 100, H / 100), dpi=100)

cmap = LinearSegmentedColormap.from_list(
    'hJ', [(0.0, '#0000ff'), (0.31, '#5400b8'), (0.62, '#a60061'),
           (0.82, '#ff0000'), (1.0, '#cc3800')])
norm = Normalize(vmin=0.0, vmax=3.2)
colors = [cmap(norm(h)) for h in h_values]


def add_ax(x0, y0, x1, y1):
    return fig.add_axes([x0 / W, 1 - y1 / H, (x1 - x0) / W, (y1 - y0) / H])


def style(ax, yticks, ylabels, ylim, show_x):
    ax.set_facecolor('#EAEAF2')
    for s in ax.spines.values():
        s.set_visible(False)
    ax.grid(True, color='white', lw=1.5)
    ax.set_axisbelow(True)
    ax.set_xlim(0, 20)
    ax.set_xticks(time_ticks)
    ax.set_ylim(*ylim)
    ax.set_yticks(yticks)
    ax.set_yticklabels(ylabels)
    ax.tick_params(axis='y', length=0, labelsize=12, colors='#333333', pad=8)
    ax.tick_params(axis='x', length=0, labelsize=12.5, colors='#333333', pad=9)
    if show_x:
        ax.set_xlabel('$tJ$', fontsize=15, color='#333333', labelpad=0)
    else:
        ax.set_xticklabels([])


def draw(ax, series):
    for k, v in enumerate(series):
        ax.plot(np.linspace(0, 20, len(v)), v, color=colors[k], lw=2.2,
                solid_joinstyle='round', solid_capstyle='round', zorder=2 + k)


tick_int2 = ([0, 1, 2], ['0', '1', '2'])
tick_var = ([0, 2, 4, 6], ['0', '2', '4', '6'])
tick_fq = ([0, 5, 10, 15], ['0', '5', '10', '15'])
tick_half = ([0, 0.5, 1.0, 1.5], ['0.0', '0.5', '1.0', '1.5'])

panels = [
    ((68, 40, 327, 212), [a_mi_h0, a_mi_h1, a_mi_h2, a_mi_h3, a_mi_h4], tick_int2, (-0.08, 2.08), False, col_titles[0]),
    ((379, 40, 639, 212), [a_var_h0, a_var_h1, a_var_h2, a_var_h3, a_var_h4], tick_var, (-0.05, 7.45), False, col_titles[1]),
    ((692, 40, 952, 212), [a_fq_h0, a_fq_h1, a_fq_h2, a_fq_h3, a_fq_h4], tick_fq, (-0.08, 15.4), False, col_titles[2]),
    ((77, 233, 332, 403), [b_mi_h0, b_mi_h1, b_mi_h2, b_mi_h3, b_mi_h4], tick_half, (-0.065, 1.78), False, None),
    ((385, 233, 640, 403), [b_var_h0, b_var_h1, b_var_h2, b_var_h3, b_var_h4], tick_var, (-0.05, 7.45), False, None),
    ((693, 233, 948, 403), [b_fq_h0, b_fq_h1, b_fq_h2, b_fq_h3, b_fq_h4], tick_var, (-0.05, 7.45), False, None),
    ((1002, 233, 1257, 403), [b_svn_h0, b_svn_h1, b_svn_h2, b_svn_h3, b_svn_h4], tick_half, (-0.07, 1.85), False, col_titles[3]),
    ((77, 429, 332, 600), [c_mi_h0, c_mi_h1, c_mi_h2, c_mi_h3, c_mi_h4], tick_half, (-0.07, 1.67), True, None),
    ((385, 429, 640, 598), [c_var_h0, c_var_h1, c_var_h2, c_var_h3, c_var_h4], tick_var, (-0.05, 7.45), True, None),
    ((693, 429, 948, 598), [c_fq_h0, c_fq_h1, c_fq_h2, c_fq_h3, c_fq_h4], tick_var, (-0.05, 7.45), True, None),
    ((1002, 432, 1257, 600), [c_svn_h0, c_svn_h1, c_svn_h2, c_svn_h3, c_svn_h4], tick_int2, (-0.09, 2.04), True, None),
]

for box, series, ticks, ylim, show_x, title in panels:
    ax = add_ax(*box)
    style(ax, ticks[0], ticks[1], ylim, show_x)
    draw(ax, series)
    if title:
        ax.set_title(title, fontsize=14, color='#262626', pad=4)

# row labels
for lab, (x, y) in zip(row_labels, [(25, 127), (23, 305), (20, 507)]):
    fig.text(x / W, 1 - y / H, lab, ha='center', va='center', fontsize=17,
             fontweight='bold', fontstyle='italic', family='Liberation Serif')

# colour bar
cax = add_ax(981, 45, 988, 162)
lo, hi = -0.08, 3.23
grad = np.linspace(lo, hi, 256)[:, None]
cax.imshow(grad, extent=[0, 1, lo, hi], origin='lower', aspect='auto',
           cmap=cmap, norm=norm)
cax.set_xlim(0, 1)
cax.set_ylim(lo, hi)
cax.set_xticks([])
cax.yaxis.tick_right()
cax.set_yticks(cbar_ticks)
cax.set_yticklabels(cbar_ticklabels, family='Lato', fontsize=13)
cax.tick_params(axis='y', length=0, pad=2, colors='#222222')
for s in cax.spines.values():
    s.set_visible(False)
fig.text(986 / W, 1 - 26 / H, 'h/J', ha='center', va='center', fontsize=17,
         fontweight='bold', fontstyle='italic', family='Liberation Serif')

fig.savefig('out.png', dpi=100, facecolor='white')
